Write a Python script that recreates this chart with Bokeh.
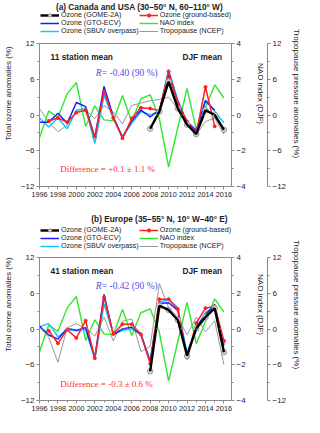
from bokeh.plotting import figure
from bokeh.models import (Range1d, LinearAxis, FixedTicker, Legend, LegendItem,
                          Label, Span)
from bokeh.layouts import column
from bokeh.embed import file_html
from bokeh.resources import INLINE

nan = float("nan")
years = list(range(1996, 2017))
x_ticks = list(range(1996, 2017, 2))
x_minor = list(range(1997, 2017, 2))
oz_ticks = [-12, -6, 0, 6, 12]
oz_minor = [-9, -3, 3, 9]
nao_ticks = [-4, -2, 0, 2, 4]
nao_minor = [-3, -1, 1, 3]

# NAO index (DJF), same in both panels
nao_index = [-1.27, 0.22, -0.13, 1.18, 1.82, -0.64, 0.51, -0.27, -0.33, 1.09, -0.36,
             0.91, 1.13, -0.2, -2.91, -0.7, 1.49, -0.82, 0.42, 1.68, 0.95]

# (a) Canada and USA
gome_a = [nan] * 12 + [-2.3, 0.6, 5.6, 1.1, -1.6, -3.2, 0.8, 0.0, -2.5]
ground_a = [nan, -1.0, -0.5, -1.2, 0.4, 0.8, -3.6, 3.9, -0.5, -3.9, -0.6, 1.2, 1.1,
            0.7, 7.3, 2.0, -1.1, -3.1, 4.7, -1.9, nan]
gto_a = [-1.2, -1.2, 0.3, -1.4, 2.1, 1.4, -3.8, 4.8, -0.3, -3.8, -1.0, 0.8, -0.3,
         0.8, 6.8, 2.2, -1.1, -2.6, 2.4, 0.8, nan]
sbuv_a = [-0.5, -2.0, -0.5, -2.3, 0.8, 1.1, -4.8, 3.3, -0.6, -3.6, -1.4, 0.6, 0.0,
          0.6, 7.6, 2.5, -1.4, -2.8, 2.5, 0.6, -1.3]
tropo_a = [1.1, -1.2, -2.8, -1.7, 0.6, 0.8, -0.6, 1.6, 0.5, -1.5, 1.6, 2.0, 2.4,
           2.6, 3.0, 1.0, -1.6, -3.3, -1.1, -0.5, -3.3]

# (b) Europe
gome_b = [nan] * 12 + [-7.1, 3.9, 3.2, 1.5, -4.5, 0.1, 2.0, 3.5, -3.9]
ground_b = [nan, -0.3, -2.4, -0.1, -1.5, 1.4, -4.9, 5.3, -0.8, 0.8, 0.8, -0.9, -5.8,
            5.0, 5.0, 3.3, -4.8, 1.0, 3.5, 3.8, -2.0]
gto_b = [0.5, -1.0, -1.7, 0.1, -0.2, 0.2, -4.8, 5.8, -1.0, 0.0, 0.3, -1.0, -5.5,
         4.3, 4.4, 3.1, -4.4, 0.3, 2.4, 4.1, -2.8]
sbuv_b = [0.4, 0.9, -1.3, -0.1, -0.3, -0.1, -5.1, 4.2, -0.8, -0.2, 0.0, -0.8, -5.3,
          4.5, 5.0, 3.6, -4.0, 0.1, 2.8, 3.7, -2.5]
tropo_b = [0.3, -1.4, -5.6, 0.2, 0.9, 0.1, -1.2, 2.0, -2.0, 1.3, 1.7, -3.8, -2.9,
           7.6, 3.6, 2.0, -1.0, 2.0, -0.5, 1.4, -6.0]

legend_labels = ["Ozone (GOME-2A)", "Ozone (GTO-ECV)", "Ozone (SBUV overpass)",
                 "Ozone (ground-based)", "NAO index", "Tropopause (NCEP)"]

SANS = "Liberation Sans"
SERIF = "Liberation Serif"
AX = "#8a8a8a"
TXT = "#222222"

C_GOME = "#000000"
C_GROUND = "#ff2020"
C_GTO = "#1c1cff"
C_SBUV = "#10c8ff"
C_NAO = "#2ee82e"
C_TROP = "#8c8c8c"

PX_PER_UNIT = 143.0 / 24.0


def style_axis(ax, ticks, minor, size="8px"):
    ax.ticker = FixedTicker(ticks=ticks, minor_ticks=minor)
    ax.axis_line_color = AX
    ax.major_tick_line_color = AX
    ax.minor_tick_line_color = AX
    ax.major_tick_in = 0
    ax.major_tick_out = 3
    ax.minor_tick_in = 0
    ax.minor_tick_out = 2
    ax.major_label_text_font = SANS
    ax.major_label_text_font_size = size
    ax.major_label_text_color = TXT
    ax.major_label_standoff = 2
    ax.axis_label_text_font = SANS
    ax.axis_label_text_font_size = "8px"
    ax.axis_label_text_font_style = "normal"
    ax.axis_label_text_color = TXT


def make_panel(h, top, bottom, legend_bottom, title_y_px, title, station, rtext,
               dtext, r_y, d_y, gome, ground, gto, sbuv, tropo):
    extra = top / PX_PER_UNIT
    p = figure(width=304, height=h, x_range=Range1d(1996, 2016.82),
               y_range=Range1d(-12, 12 + extra), output_backend="svg",
               toolbar_location=None, min_border_left=32, min_border_right=0,
               min_border_top=0, min_border_bottom=bottom,
               x_axis_location=None, y_axis_location=None)
    p.extra_y_ranges = {"nao": Range1d(-4, 4 + extra / 3.0),
                        "trop": Range1d(-12, 12 + extra)}
    p.xgrid.visible = False
    p.ygrid.visible = False
    p.outline_line_color = None
    p.background_fill_color = "white"
    p.border_fill_color = "white"

    xa = LinearAxis()
    style_axis(xa, x_ticks, x_minor, size="7.3px")
    p.add_layout(xa, "below")

    ya = LinearAxis(axis_label="Total ozone anomalies (%)")
    style_axis(ya, oz_ticks, oz_minor)
    ya.bounds = (-12, 12)
    ya.axis_label_standoff = 5
    p.add_layout(ya, "left")

    na = LinearAxis(y_range_name="nao", axis_label="NAO index (DJF)")
    style_axis(na, nao_ticks, nao_minor)
    na.bounds = (-4, 4)
    na.axis_label_standoff = 7
    p.add_layout(na, "right")

    spacer = LinearAxis(y_range_name="trop")
    spacer.ticker = FixedTicker(ticks=[])
    spacer.axis_line_color = None
    spacer.major_tick_line_color = None
    spacer.minor_tick_line_color = None
    spacer.major_tick_in = 0
    spacer.major_tick_out = 20
    spacer.major_label_standoff = 0
    spacer.major_label_text_font_size = "1px"
    p.add_layout(spacer, "right")

    ta = LinearAxis(y_range_name="trop", axis_label="Tropopause pressure anomalies (%)")
    style_axis(ta, oz_ticks, oz_minor)
    ta.bounds = (-12, 12)
    ta.axis_label_standoff = 3
    p.add_layout(ta, "right")

    # top border of the box and dotted zero line
    p.add_layout(Span(location=12, dimension="width", line_color=AX, line_width=1))
    p.add_layout(Span(location=0, dimension="width", line_color="#cfcfcf",
                      line_dash="1 2", line_width=1))

    r_trop = p.line(years, tropo, y_range_name="trop", line_color=C_TROP, line_width=0.9)
    r_nao = p.line(years, nao_index, y_range_name="nao", line_color=C_NAO, line_width=1.4)
    r_sbuv = p.line(years, sbuv, line_color=C_SBUV, line_width=1.5)
    r_gto = p.line(years, gto, line_color=C_GTO, line_width=1.5)
    r_gr = p.line(years, ground, line_color=C_GROUND, line_width=1.5)
    r_grm = p.scatter(years, ground, marker="circle", size=3, fill_color=C_GROUND,
                      line_color=C_GROUND)
    r_gm = p.scatter(years, gome, marker="circle", size=5.5, fill_color="#d8d8d8",
                     line_color="#9a9a9a", line_width=1)
    r_g = p.line(years, gome, line_color=C_GOME, line_width=2.4)

    rlist = [[r_g, r_gm], [r_gto], [r_sbuv], [r_gr, r_grm], [r_nao], [r_trop]]
    items = [LegendItem(label=lab, renderers=r) for lab, r in zip(legend_labels, rlist)]
    frame_h = h - bottom
    leg = Legend(items=items, location=(1, frame_h - legend_bottom), nrows=3,
                 orientation="vertical", glyph_width=19, glyph_height=8,
                 label_height=8, label_standoff=2, spacing=0, padding=0, margin=0,
                 border_line_color=None, background_fill_alpha=0,
                 label_text_font=SANS, label_text_font_size="7.1px",
                 label_text_color=TXT, label_text_baseline="middle")
    p.add_layout(leg)

    title_y = 12 + (top - title_y_px) / PX_PER_UNIT
    p.add_layout(Label(x=2016.4, y=title_y, text=title, text_font=SANS,
                       text_font_size="8.3px", text_font_style="bold",
                       text_align="right", text_baseline="middle", text_color=TXT))
    p.add_layout(Label(x=1997.2, y=9.7, text=station, text_font=SANS,
                       text_font_size="8.3px", text_font_style="bold",
                       text_baseline="middle", text_color=TXT))
    p.add_layout(Label(x=2015.8, y=9.7, text="DJF mean", text_font=SANS,
                       text_font_size="8.3px", text_font_style="bold",
                       text_align="right", text_baseline="middle", text_color=TXT))
    p.add_layout(Label(x=2002.1, y=r_y, text="R", text_font=SERIF,
                       text_font_size="9.5px", text_font_style="italic",
                       text_baseline="middle", text_color="#5050ee"))
    p.add_layout(Label(x=2002.1, y=r_y, x_offset=6, text=rtext, text_font=SERIF,
                       text_font_size="9.5px", text_baseline="middle",
                       text_color="#5050ee"))
    p.add_layout(Label(x=1998.25, y=d_y, text=dtext, text_font=SERIF,
                       text_font_size="9px", text_baseline="middle",
                       text_color="#ff3030"))
    return p


pa = make_panel(208, 43, 22, 35.3, 6.5, "(a) Canada  and  USA (30–50° N, 60–110° W)",
                "11 station mean", "= -0.40 (90 %)", "Difference = +0.1 ± 1.1 %",
                7.1, -9.0, gome_a, ground_a, gto_a, sbuv_a, tropo_a)
pb = make_panel(209, 49, 17, 41.6, 10, "(b) Europe (35–55° N, 10° W–40° E)",
                "41 station mean", "= -0.42 (90 %)", "Difference = -0.3 ± 0.6 %",
                7.3, -9.3, gome_b, ground_b, gto_b, sbuv_b, tropo_b)

layout = column(pa, pb, spacing=0)
open("out.html", "w").write(file_html(layout, INLINE))
